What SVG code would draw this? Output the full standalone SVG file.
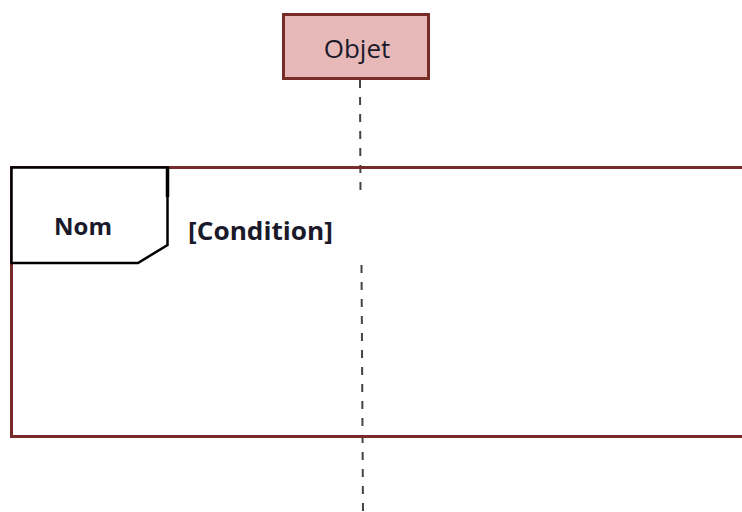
<svg xmlns="http://www.w3.org/2000/svg" width="742" height="512" viewBox="0 0 742 512">
  <style>
    .lifeline { stroke: #444; stroke-width: 2; stroke-dasharray: 8 9; fill: none; }
    .frame { fill: none; stroke: #772c2a; stroke-width: 3; }
    .label { font-family: "Open Sans", "Liberation Sans", sans-serif; fill: #1a1a2a; }
  </style>
  <rect width="742" height="512" fill="#ffffff"/>

  <g id="connectors">
    <line class="lifeline" x1="360" y1="80" x2="360.5" y2="198"/>
    <line class="lifeline" x1="361.5" y1="265" x2="363" y2="512"/>
  </g>

  <g id="fragment">
    <path class="frame" d="M 744 167.5 L 11.5 167.5 L 11.5 436.5 L 744 436.5"/>
    <path d="M 11.5 167.5 L 167.5 167.5 L 167.5 245 L 138 263 L 11.5 263 Z" fill="#ffffff" stroke="#000" stroke-width="2.5"/>
    <line x1="167.5" y1="167" x2="167.5" y2="197" stroke="#000" stroke-width="3.5"/>
    <text class="label" x="83" y="235" font-size="24" font-weight="bold" text-anchor="middle">Nom</text>
    <text class="label" x="188" y="240" font-size="25" font-weight="bold" textLength="145" lengthAdjust="spacingAndGlyphs">[Condition]</text>
  </g>

  <g id="objet">
    <rect x="283.5" y="14.5" width="145" height="64" fill="#e6b8b7" stroke="#772c2a" stroke-width="3"/>
    <text class="label" x="357" y="58" font-size="26" text-anchor="middle">Objet</text>
  </g>
</svg>
